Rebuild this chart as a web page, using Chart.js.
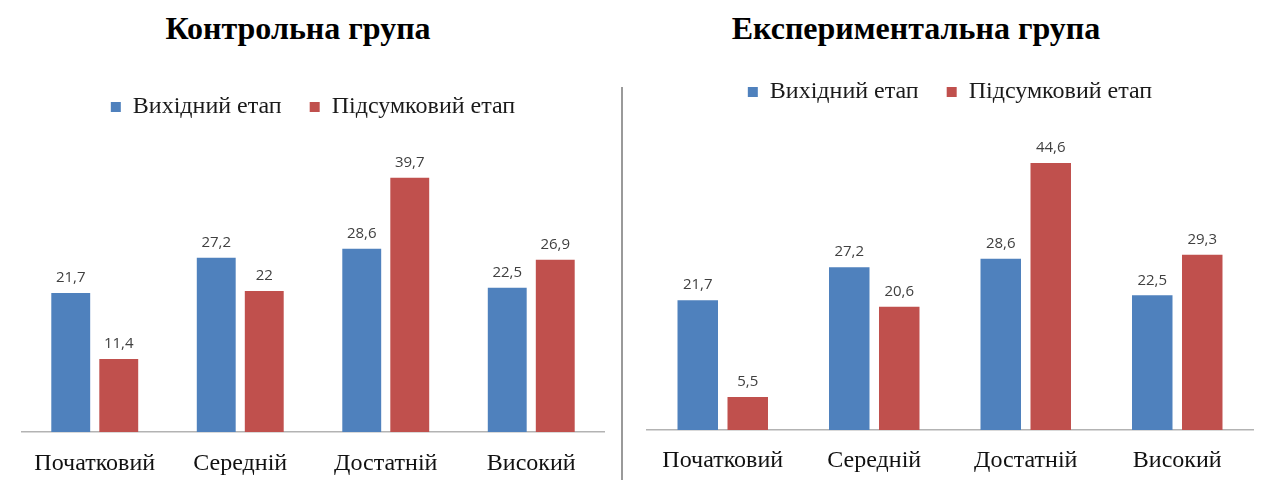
<!DOCTYPE html>
<html lang="uk">
<head>
<meta charset="UTF-8">
<title>Контрольна та експериментальна група</title>
<script src="https://cdn.jsdelivr.net/npm/chart.js"></script>
<style>
    html, body { margin: 0; padding: 0; background: #fff; }
    #wrap { position: relative; width: 1262px; height: 480px; overflow: hidden; }
    .box { position: absolute; top: 0; height: 480px; }
    .title {
        position: absolute; top: 11px;
        font-family: "Liberation Serif", "Times New Roman", serif;
        font-weight: bold; font-size: 32px; line-height: 34px;
        color: #000; text-align: center; white-space: nowrap;
    }
    #divider { position: absolute; left: 621px; top: 87px; width: 1.5px; height: 393px; background: #9a9a9a; }
</style>
</head>
<body>
<div id="wrap">
    <div class="title" style="left:0; width:596px;">Контрольна група</div>
    <div class="title" style="left:622px; width:588px;">Експериментальна група</div>
    <div class="box" style="left:0; width:622px;"><canvas id="controlChart"></canvas></div>
    <div id="divider"></div>
    <div class="box" style="left:622px; width:640px;"><canvas id="expChart"></canvas></div>
</div>

<script>
// levels and series
var categories = ['Початковий', 'Середній', 'Достатній', 'Високий'];
var seriesNames = ['Вихідний етап', 'Підсумковий етап'];

var controlInitial = [21.7, 27.2, 28.6, 22.5];
var controlFinal = [11.4, 22, 39.7, 26.9];

var expInitial = [21.7, 27.2, 28.6, 22.5];
var expFinal = [5.5, 20.6, 44.6, 29.3];

var blue = '#4F81BD';
var red = '#C0504D';
var serif = '"Liberation Serif", "Times New Roman", serif';

// value labels above bars, decimal comma
var barLabels = {
    id: 'barLabels',
    afterDatasetsDraw: function (chart) {
        var ctx = chart.ctx;
        ctx.save();
        ctx.font = '15px "Open Sans", sans-serif';
        ctx.fillStyle = '#404040';
        ctx.textAlign = 'center';
        ctx.textBaseline = 'middle';
        chart.data.datasets.forEach(function (ds, i) {
            chart.getDatasetMeta(i).data.forEach(function (bar, j) {
                ctx.fillText(String(ds.data[j]).replace('.', ','), bar.x, bar.y - 15);
            });
        });
        ctx.restore();
    }
};

function makeChart(id, initial, final, opts) {
    var ctx = document.getElementById(id).getContext('2d');
    return new Chart(ctx, {
        type: 'bar',
        data: {
            labels: categories,
            datasets: [
                { label: seriesNames[0], data: initial, backgroundColor: blue },
                { label: seriesNames[1], data: final, backgroundColor: red }
            ]
        },
        options: {
            responsive: true,
            maintainAspectRatio: false,
            animation: false,
            categoryPercentage: 0.66,
            barPercentage: 0.81,
            layout: { padding: opts.padding },
            plugins: {
                tooltip: { enabled: false },
                legend: {
                    position: 'top',
                    labels: {
                        boxWidth: 10,
                        boxHeight: 10,
                        padding: 28,
                        color: '#1a1a1a',
                        font: { family: serif, size: 24 }
                    }
                }
            },
            scales: {
                x: {
                    grid: { display: false, drawTicks: false },
                    border: { display: true, color: '#b3b3b3', width: 1.5 },
                    ticks: {
                        color: '#111',
                        padding: opts.tickPad,
                        maxRotation: 0,
                        autoSkip: false,
                        font: { family: serif, size: 24 }
                    },
                    afterFit: function (scale) { scale.height = opts.axisHeight; }
                },
                y: {
                    display: false,
                    min: 0,
                    max: opts.yMax
                }
            }
        },
        plugins: [barLabels]
    });
}

var controlChart = makeChart('controlChart', controlInitial, controlFinal, {
    padding: { top: 67, left: 22, right: 18, bottom: 0 },
    axisHeight: 48,
    tickPad: 17,
    yMax: 47.3
});

var expChart = makeChart('expChart', expInitial, expFinal, {
    padding: { top: 52, left: 25, right: 9, bottom: 0 },
    axisHeight: 50,
    tickPad: 16,
    yMax: 52.8
});
</script>
</body>
</html>
